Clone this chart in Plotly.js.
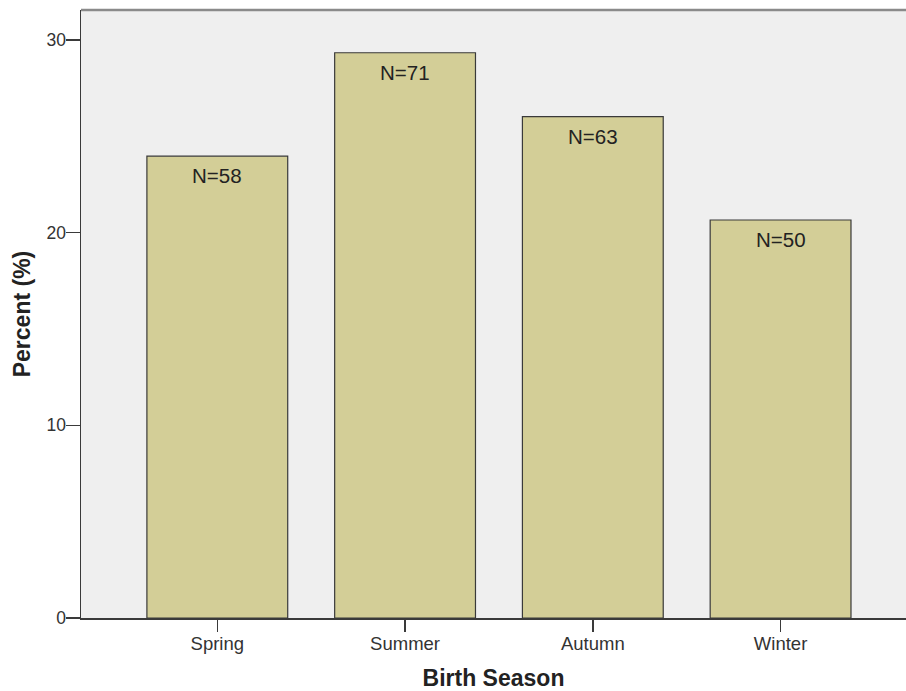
<!DOCTYPE html>
<html>
<head>
<meta charset="utf-8">
<script src="https://cdn.plot.ly/plotly-3.0.1.min.js"></script>
<style>html,body{margin:0;padding:0;background:#fff;}#chart{width:906px;height:691px;}</style>
</head>
<body>
<div id="chart"></div>
<script>
const seasons = ["Spring", "Summer", "Autumn", "Winter"];
const counts = [58, 71, 63, 50];
const percents = [23.97, 29.34, 26.03, 20.66];
const barLabels = ["N=58", "N=71", "N=63", "N=50"];
const yTicks = [0, 10, 20, 30];

const trace = {
  type: "bar",
  x: seasons,
  y: percents,
  width: 0.75,
  marker: {color: "#d3ce97", line: {color: "#3a3a3a", width: 1.2}},
  hoverinfo: "none"
};

const annotations = seasons.map((s, i) => ({
  x: s, y: percents[i], xref: "x", yref: "y",
  text: barLabels[i], showarrow: false,
  yanchor: "top", yshift: -6,
  font: {family: "Liberation Sans, Arial, sans-serif", size: 20.5, color: "#222"}
}));

const layout = {
  width: 906, height: 691,
  margin: {l: 81, r: 0, t: 10, b: 73},
  paper_bgcolor: "#ffffff",
  plot_bgcolor: "#efefef",
  font: {family: "Liberation Sans, Arial, sans-serif", color: "#333"},
  showlegend: false,
  bargap: 0.25,
  xaxis: {
    type: "category",
    range: [-0.726, 3.668],
    showgrid: false, zeroline: false,
    showline: true, linecolor: "#3a3a3a", linewidth: 1.5,
    ticks: "outside", ticklen: 12, tickwidth: 1.5, tickcolor: "#3a3a3a",
    ticklabelstandoff: -4,
    tickfont: {size: 18.5, color: "#333"},
    title: {text: "<b>Birth Season</b>", font: {size: 23, color: "#222"}, standoff: 17}
  },
  yaxis: {
    range: [0, 31.56],
    tickvals: yTicks,
    showgrid: false, zeroline: false,
    showline: true, linecolor: "#3a3a3a", linewidth: 1.5,
    ticks: "outside", ticklen: 14, tickwidth: 1.5, tickcolor: "#3a3a3a",
    ticklabelstandoff: -4,
    tickfont: {size: 17.5, color: "#333"},
    title: {text: "<b>Percent (%)</b>", font: {size: 23, color: "#222"}, standoff: 9}
  },
  shapes: [{
    type: "line", xref: "paper", yref: "paper",
    x0: 0, x1: 1, y0: 1, y1: 1,
    line: {color: "#8a8a8a", width: 2.5}
  }],
  annotations: annotations
};

Plotly.newPlot("chart", [trace], layout, {displayModeBar: false, staticPlot: true});
</script>
</body>
</html>
